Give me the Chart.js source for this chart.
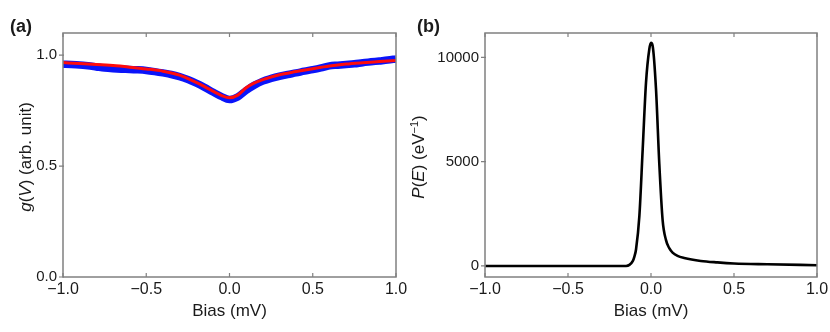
<!DOCTYPE html>
<html>
<head>
<meta charset="utf-8">
<script src="https://cdn.jsdelivr.net/npm/chart.js@4"></script>
<style>
html, body { margin: 0; padding: 0; background: #fff; }
#wrap { position: relative; width: 830px; height: 332px; }
.box { position: absolute; top: 0; height: 332px; }
#boxA { left: 0; width: 410px; }
#boxB { left: 400px; width: 430px; }
</style>
</head>
<body>
<div id="wrap">
  <div class="box" id="boxA"><canvas id="gv"></canvas></div>
  <div class="box" id="boxB"><canvas id="pe"></canvas></div>
</div>
<script>
// (a) measured conductance (blue) and fit (red)
const biasBlue = [-1.00, -0.95, -0.90, -0.85, -0.80, -0.75, -0.70, -0.65, -0.60, -0.55,
                  -0.50, -0.45, -0.40, -0.35, -0.30, -0.25, -0.20, -0.15, -0.10, -0.05,
                   0.00, 0.05, 0.10, 0.15, 0.20, 0.25, 0.30, 0.35, 0.40, 0.45,
                   0.50, 0.55, 0.60, 0.65, 0.70, 0.75, 0.80, 0.85, 0.90, 0.95, 1.00];
const gBlue = [0.959, 0.958, 0.956, 0.952, 0.947, 0.942, 0.939, 0.937, 0.936, 0.934,
               0.931, 0.926, 0.920, 0.913, 0.903, 0.890, 0.874, 0.855, 0.834, 0.814,
               0.800, 0.812, 0.841, 0.865, 0.883, 0.895, 0.905, 0.913, 0.920, 0.928,
               0.935, 0.943, 0.952, 0.955, 0.958, 0.961, 0.966, 0.970, 0.974, 0.978, 0.983];
const biasRed = [-1.0, -0.9, -0.8, -0.7, -0.6, -0.5, -0.4, -0.3, -0.2, -0.15, -0.1, -0.05,
                  0.0, 0.05, 0.1, 0.15, 0.2, 0.3, 0.4, 0.5, 0.6, 0.7, 0.8, 0.9, 1.0];
const gRed = [0.967, 0.962, 0.958, 0.953, 0.946, 0.938, 0.928, 0.910, 0.877, 0.858, 0.838, 0.819,
              0.808, 0.820, 0.853, 0.875, 0.890, 0.912, 0.926, 0.939, 0.951, 0.960, 0.966, 0.971, 0.976];

// (b) P(E)
const biasP = [-1.0, -0.5, -0.2, -0.15, -0.13, -0.11, -0.10, -0.09, -0.07, -0.05, -0.03, -0.01, 0.0,
                0.01, 0.03, 0.05, 0.07, 0.09, 0.11, 0.13, 0.16, 0.2, 0.3, 0.4, 0.5, 0.7, 1.0];
const pE = [0, 0, 0, 0, 50, 230, 450, 800, 2400, 5600, 8800, 10400, 10700,
            10550, 8500, 4900, 2200, 1250, 850, 640, 480, 380, 240, 170, 120, 80, 35];

const xTicks = [-1, -0.5, 0, 0.5, 1];
const xTickLabels = ['\u22121.0', '\u22120.5', '0.0', '0.5', '1.0'];
const yTicksA = [0, 0.5, 1];
const yTickLabelsA = ['0.0', '0.5', '1.0'];
const yTicksB = [0, 5000, 10000];
const yTickLabelsB = ['0', '5000', '10000'];

const FONT = "'Liberation Sans', Arial, sans-serif";
const TXT = '#1a1a1a';
const FRAME = '#808080';

function richText(ctx, parts, cx, cy, rotate) {
  ctx.save();
  ctx.translate(cx, cy);
  if (rotate) ctx.rotate(-Math.PI / 2);
  ctx.textBaseline = 'alphabetic';
  ctx.textAlign = 'left';
  ctx.fillStyle = TXT;
  let total = 0;
  parts.forEach(p => {
    ctx.font = p.font;
    p.w = ctx.measureText(p.t).width;
    total += p.w;
  });
  let x = -total / 2;
  parts.forEach(p => {
    ctx.font = p.font;
    ctx.fillText(p.t, x, 6 + (p.dy || 0));
    x += p.w;
  });
  ctx.restore();
}

const N = '17px ' + FONT, I = 'italic 17px ' + FONT, S = '11px ' + FONT;

function framePlugin(label, labelX, yTitle, yTitleX) {
  return {
    id: 'frame',
    afterDraw(chart) {
      const {ctx, chartArea: a} = chart;
      const xs = chart.scales.x, ys = chart.scales.y;
      ctx.save();
      ctx.strokeStyle = FRAME;
      ctx.lineWidth = 1.5;
      ctx.strokeRect(a.left, a.top, a.right - a.left, a.bottom - a.top);
      ctx.lineWidth = 1.2;
      ctx.beginPath();
      xs.ticks.forEach(t => {
        const px = xs.getPixelForValue(t.value);
        ctx.moveTo(px, a.bottom); ctx.lineTo(px, a.bottom - 4);
        ctx.moveTo(px, a.top); ctx.lineTo(px, a.top + 4);
      });
      ys.ticks.forEach(t => {
        const py = ys.getPixelForValue(t.value);
        ctx.moveTo(a.left - 4, py); ctx.lineTo(a.left + 1, py);
      });
      ctx.stroke();
      ctx.restore();

      ctx.save();
      ctx.fillStyle = TXT;
      ctx.font = 'bold 18px ' + FONT;
      ctx.textBaseline = 'middle';
      ctx.textAlign = 'left';
      ctx.fillText(label, labelX, 27);
      ctx.restore();

      richText(ctx, [{t: 'Bias (mV)', font: N}], (a.left + a.right) / 2, 310, false);
      richText(ctx, yTitle, yTitleX, (a.top + a.bottom) / 2 + 2, true);
    }
  };
}

function makeOptions(ymin, ymax, yTicks, yLabels, yWidth, padRight) {
  return {
    responsive: true,
    maintainAspectRatio: false,
    animation: false,
    layout: {padding: {top: 33, right: padRight, left: 0, bottom: 0}},
    plugins: {legend: {display: false}, tooltip: {enabled: false}},
    elements: {point: {radius: 0}},
    scales: {
      x: {
        type: 'linear', min: -1, max: 1,
        grid: {display: false, drawTicks: false},
        border: {display: false},
        afterBuildTicks: s => { s.ticks = xTicks.map(v => ({value: v})); },
        afterFit: s => { s.height = 55; s.paddingLeft = 0; s.paddingRight = 0; },
        ticks: {
          font: {family: FONT, size: 16}, color: TXT, padding: 3, maxRotation: 0, autoSkip: false,
          callback: v => xTickLabels[xTicks.indexOf(v)]
        }
      },
      y: {
        type: 'linear', min: ymin, max: ymax,
        grid: {display: false, drawTicks: false},
        border: {display: false},
        afterBuildTicks: s => { s.ticks = yTicks.map(v => ({value: v})); },
        afterFit: s => { s.width = yWidth; s.paddingTop = 0; s.paddingBottom = 0; },
        ticks: {
          font: {family: FONT, size: 15}, color: TXT, padding: 6, autoSkip: false,
          callback: v => yLabels[yTicks.indexOf(v)]
        }
      }
    }
  };
}

new Chart(document.getElementById('gv'), {
  type: 'line',
  data: {
    datasets: [
      {
        label: 'fit',
        data: biasRed.map((x, i) => ({x: x, y: gRed[i]})),
        borderColor: 'rgb(255, 12, 12)',
        borderWidth: 3,
        cubicInterpolationMode: 'monotone',
        order: 0
      },
      {
        label: 'data',
        data: biasBlue.map((x, i) => ({x: x, y: gBlue[i]})),
        borderColor: 'rgb(10, 20, 250)',
        borderWidth: 7.5,
        borderJoinStyle: 'round',
        cubicInterpolationMode: 'monotone',
        order: 1
      }
    ]
  },
  options: makeOptions(0, 1.1, yTicksA, yTickLabelsA, 63, 14),
  plugins: [framePlugin('(a)', 10,
    [{t: 'g', font: I}, {t: '(', font: N}, {t: 'V', font: I}, {t: ') (arb. unit)', font: N}], 25)]
});

new Chart(document.getElementById('pe'), {
  type: 'line',
  data: {
    datasets: [{
      label: 'P(E)',
      data: biasP.map((x, i) => ({x: x, y: pE[i]})),
      borderColor: '#000',
      borderWidth: 2.6,
      cubicInterpolationMode: 'monotone'
    }]
  },
  options: makeOptions(-530, 11170, yTicksB, yTickLabelsB, 85, 13),
  plugins: [framePlugin('(b)', 17,
    [{t: 'P', font: I}, {t: '(', font: N}, {t: 'E', font: I}, {t: ') (eV', font: N},
     {t: '\u22121', font: S, dy: -6}, {t: ')', font: N}], 18)]
});
</script>
</body>
</html>
